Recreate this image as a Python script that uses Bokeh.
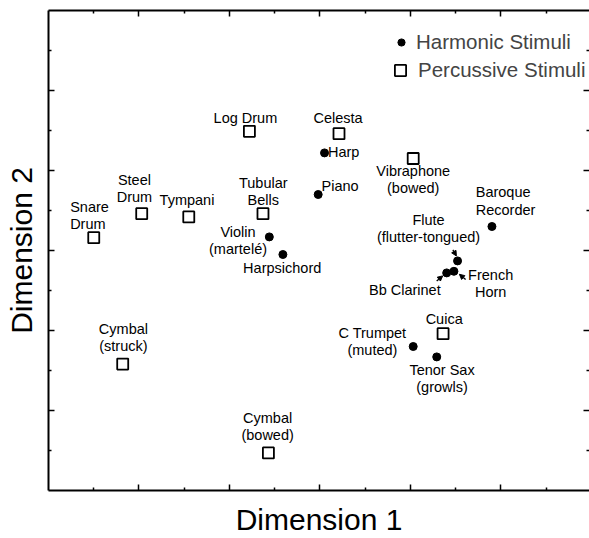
from bokeh.plotting import figure
from bokeh.models import (ColumnDataSource, Range1d, LinearAxis, FixedTicker, Legend,
                          LegendItem, Arrow, NormalHead)
from bokeh.core.properties import value
from bokeh.embed import file_html
from bokeh.resources import INLINE

# ---------------- data ----------------
perc_names = ["Log Drum", "Celesta", "Vibraphone\n(bowed)", "Steel\nDrum", "Tympani",
              "Tubular\nBells", "Snare\nDrum", "Cymbal\n(struck)", "Cymbal\n(bowed)", "Cuica"]
perc_x = [-0.78, 0.21, 1.03, -1.97, -1.45, -0.63, -2.50, -2.18, -0.57, 1.36]
perc_y = [1.49, 1.46, 1.15, 0.46, 0.42, 0.46, 0.16, -1.42, -2.53, -1.04]

harm_names = ["Harp", "Piano", "Baroque\nRecorder", "Violin\n(martelé)", "Harpsichord",
              "Flute\n(flutter-tongued)", "Bb Clarinet", "French\nHorn",
              "C Trumpet\n(muted)", "Tenor Sax\n(growls)"]
harm_x = [0.05, -0.02, 1.90, -0.56, -0.41, 1.52, 1.40, 1.48, 1.03, 1.29]
harm_y = [1.22, 0.70, 0.30, 0.17, -0.05, -0.13, -0.28, -0.26, -1.20, -1.33]

major_ticks = [-2, -1, 0, 1, 2]
minor_ticks = [-2.5, -1.5, -0.5, 0.5, 1.5, 2.5]

# ---------------- label layout (screen px offsets) ----------------
perc_dx = [-4, -1, 0, -7.3, -1.8, 0.3, -23.6, 0.7, -0.8, 1.1]
perc_dy = [-13.3, -15.6, 21.4, -25.6, -17, -21.9, -21.8, -26.6, -26.7, -14.3]
perc_align = ["center", "center", "center", "center", "center", "center", "left",
              "center", "center", "center"]

harm_dx = [3.4, 3.4, -16.2, -31.3, -0.7, -29, -6, 36.7, -40.8, 5.3]
harm_dy = [-0.7, -8.9, -25.5, 3.3, 13.7, -32.8, 17, 12.4, -5.1, 21.6]
harm_align = ["left", "left", "left", "center", "center", "center", "right", "center",
              "center", "center"]

# arrows: (index of harmonic item, start px offset, end px offset)
arrow_idx = [5, 6, 7]
arrow_start = [(-4.7, -11), (-10, 8), (11.7, 8.3)]
arrow_end = [(-1.2, -5), (-4, 3), (5.5, 3)]

FONT = "Liberation Sans"
X0, X1 = -3, 2.978
Y0, Y1 = -3, 3

p = figure(width=589, height=538, x_range=Range1d(X0, X1), y_range=Range1d(Y0, Y1),
           output_backend="svg", toolbar_location=None,
           min_border_left=48, min_border_right=0, min_border_top=10, min_border_bottom=48,
           x_axis_label="Dimension 1", y_axis_label="Dimension 2")
p.grid.visible = False
p.outline_line_color = None
p.background_fill_color = "white"

bottom_ax = p.below[0]
left_ax = p.left[0]
top_ax = LinearAxis()
right_ax = LinearAxis()
p.add_layout(top_ax, "above")
p.add_layout(right_ax, "right")

for ax in [bottom_ax, left_ax, top_ax, right_ax]:
    ax.ticker = FixedTicker(ticks=major_ticks, minor_ticks=minor_ticks)
    ax.major_tick_in = 6
    ax.major_tick_out = 0
    ax.minor_tick_in = 3
    ax.minor_tick_out = 0
    ax.major_tick_line_width = 1.5
    ax.minor_tick_line_width = 1.5
    ax.major_tick_line_color = "black"
    ax.minor_tick_line_color = "black"
    ax.axis_line_width = 2
    ax.axis_line_color = "black"
    ax.major_label_text_font_size = "0px"
    ax.major_label_standoff = 0
    ax.major_label_overrides = {t: "" for t in major_ticks}
right_ax.axis_line_alpha = 0

for ax, so in [(bottom_ax, 12), (left_ax, 11)]:
    ax.axis_label_text_font = FONT
    ax.axis_label_text_font_size = "30px"
    ax.axis_label_text_font_style = "normal"
    ax.axis_label_text_color = "black"
    ax.axis_label_standoff = so

kx = 541 / (X1 - X0)
ky = 480 / (Y1 - Y0)

perc_src = ColumnDataSource(dict(x=perc_x, y=perc_y, name=perc_names, dx=perc_dx,
                                 dy=perc_dy, align=perc_align))
harm_src = ColumnDataSource(dict(x=harm_x, y=harm_y, name=harm_names, dx=harm_dx,
                                 dy=harm_dy, align=harm_align))

sq = p.scatter("x", "y", source=perc_src, marker="square", size=11, fill_color="white",
               line_color="black", line_width=1.8)
dot = p.scatter("x", "y", source=harm_src, marker="circle", size=8, fill_color="black",
                line_color="black")

for src in [perc_src, harm_src]:
    p.text("x", "y", text="name", source=src, x_offset="dx", y_offset="dy",
           text_align="align", text_baseline="middle", text_font=value(FONT),
           text_font_size="14.5px", text_color="black", text_line_height=1.07)

arr_src = ColumnDataSource(dict(
    xs=[harm_x[i] + s[0] / kx for i, s in zip(arrow_idx, arrow_start)],
    ys=[harm_y[i] - s[1] / ky for i, s in zip(arrow_idx, arrow_start)],
    xe=[harm_x[i] + e[0] / kx for i, e in zip(arrow_idx, arrow_end)],
    ye=[harm_y[i] - e[1] / ky for i, e in zip(arrow_idx, arrow_end)],
))
p.add_layout(Arrow(x_start="xs", y_start="ys", x_end="xe", y_end="ye", source=arr_src,
                   line_width=1.3, line_color="black",
                   end=NormalHead(size=5, fill_color="black", line_color="black",
                                  line_width=1)))

leg1 = Legend(items=[LegendItem(label="Harmonic Stimuli", renderers=[dot])],
              location=(344, 436), glyph_width=18, glyph_height=24, label_height=24,
              label_standoff=6, padding=0, margin=0, border_line_alpha=0,
              background_fill_alpha=0, label_text_font=FONT, label_text_font_size="20.5px")
leg2 = Legend(items=[LegendItem(label="Percussive Stimuli", renderers=[sq])],
              location=(338, 406), glyph_width=28, glyph_height=28,
              label_height=28, label_standoff=4, padding=0, margin=0,
              border_line_alpha=0, background_fill_alpha=0, label_text_font=FONT,
              label_text_font_size="20.5px")
p.add_layout(leg1)
p.add_layout(leg2)

open("out.html", "w").write(file_html(p, INLINE))
